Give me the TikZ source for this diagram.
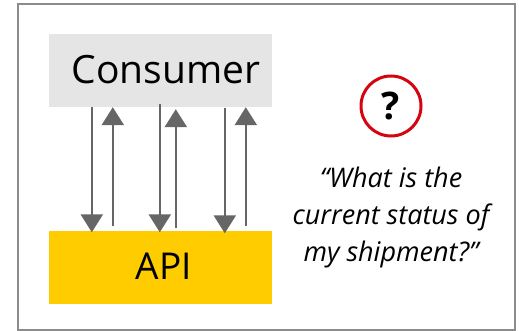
\documentclass[tikz,border=0pt]{standalone}
\usepackage{fontspec}
\setmainfont{Open Sans}
\usetikzlibrary{arrows.meta}

\definecolor{frame}{RGB}{140,140,140}
\definecolor{consfill}{RGB}{229,229,229}
\definecolor{apifill}{RGB}{255,204,0}
\definecolor{flowgray}{RGB}{102,102,102}
\definecolor{qred}{RGB}{212,5,17}

\tikzset{
  box/.style={inner sep=0pt, minimum width=223pt, minimum height=73pt},
  flow/.style={draw=flowgray, line width=2.4pt, arrows={-Triangle[width=22pt,length=18pt]}},
}

\begin{document}
\begin{tikzpicture}[x=1pt,y=1pt,yscale=-1,xscale=1]
\useasboundingbox (0,0) rectangle (519,331);

%Outer frame
\draw [frame, line width=1.5pt] (18,4) rectangle (515,330);

%Boxes
\node [box, fill=consfill] (cons) at (160.5,70.5) {};
\node [font=\fontsize{39}{44}\selectfont] (constext) at (166,70) {Consumer};
\node [box, fill=apifill] (api) at (160.5,267) {};
\node [font=\fontsize{37}{42}\selectfont] (apitext) at (164,266) {API};

%Requests down / responses up
\draw [flow] ([xshift=43pt]cons.south west) -- ([xshift=43pt,yshift=2pt]api.north west);
\draw [flow] ([xshift=64pt,yshift=-4pt]api.north west) -- ([xshift=64pt]cons.south west);
\draw [flow] ([xshift=111pt,yshift=-3pt]cons.south west) -- ([xshift=111pt,yshift=2pt]api.north west);
\draw [flow] ([xshift=127pt,yshift=-2pt]api.north west) -- ([xshift=127pt,yshift=2pt]cons.south west);
\draw [flow] ([xshift=176pt,yshift=1pt]cons.south west) -- ([xshift=176pt,yshift=3pt]api.north west);
\draw [flow] ([xshift=197pt,yshift=-4pt]api.north west) -- ([xshift=197pt]cons.south west);

%Question mark
\node [circle, draw=qred, line width=3pt, minimum size=60pt, inner sep=0pt,
  font=\fontsize{38}{40}\selectfont\bfseries] (qmark) at (391,106) {?};

% Text Node
\node [align=center, font=\fontsize{27}{37}\selectfont\itshape] (quote) at (391,217)
  {“What is the\\current status of\\my shipment?”};

\end{tikzpicture}
\end{document}
